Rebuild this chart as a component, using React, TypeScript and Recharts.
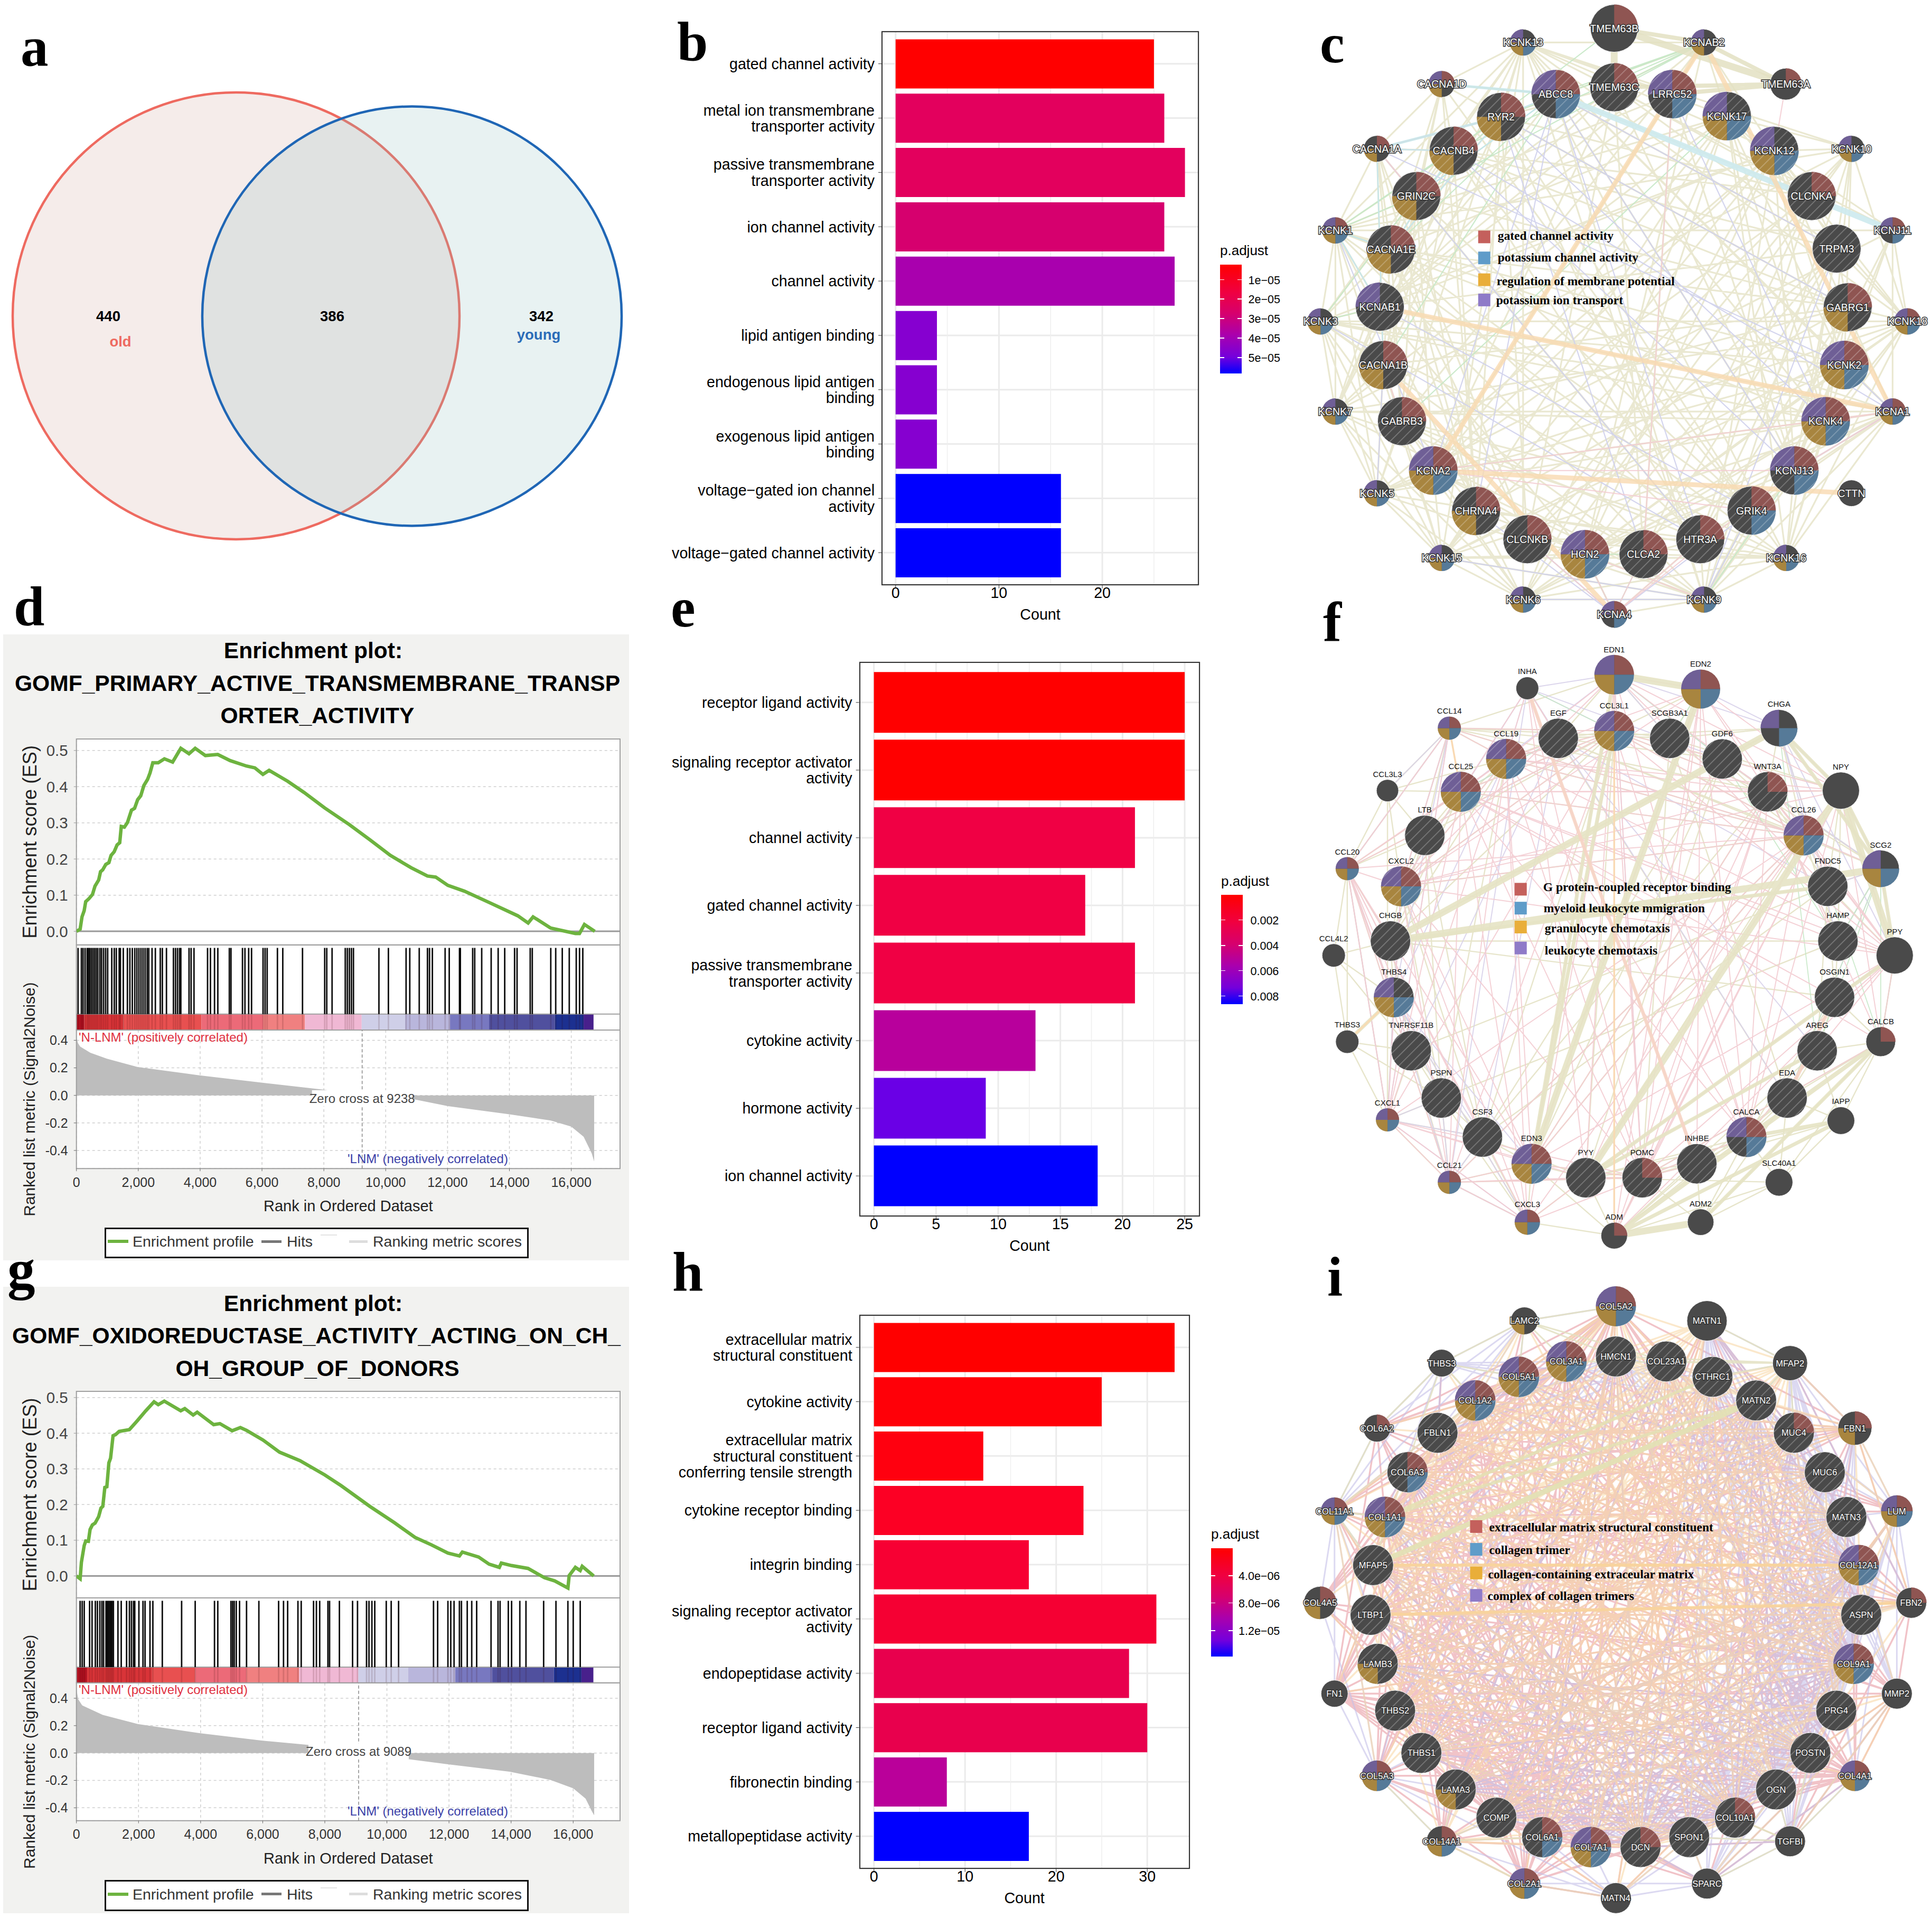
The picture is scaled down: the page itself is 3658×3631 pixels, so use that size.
import React from "react";
import {
  ComposedChart, BarChart, Bar, Cell, Line, Area, Scatter, XAxis, YAxis,
  CartesianGrid, ReferenceArea, ReferenceLine,
} from "recharts";

const SANS = "'Liberation Sans', Arial, sans-serif";
const SERIF = "'Liberation Serif', 'Times New Roman', serif";
const Q: Record<string, string> = { R: "#8F5552", B: "#567A98", G: "#A8853F", P: "#6F5F96" };
const DARK = "#4A4A4A";

/* ---------- panel a ---------- */
const vennSets = [
  { name: "old", x: 447, y: 598, r: 423, fill: "#F5ECEA", stroke: "#EE6A60" },
  { name: "young", x: 780, y: 598.5, r: 397, fill: "rgba(140,190,190,0.2)", stroke: "#1F66B5" },
];
const vennLabels = [
  { text: "440", x: 205, y: 598, color: "#000" },
  { text: "386", x: 629, y: 598, color: "#000" },
  { text: "342", x: 1025, y: 598, color: "#000" },
  { text: "old", x: 228, y: 646, color: "#EE6A60" },
  { text: "young", x: 1020, y: 633, color: "#2B6CB8" },
];

/* ---------- bar panels ---------- */
const bCategories = ["gated channel activity", "metal ion transmembrane\ntransporter activity", "passive transmembrane\ntransporter activity", "ion channel activity", "channel activity", "lipid antigen binding", "endogenous lipid antigen\nbinding", "exogenous lipid antigen\nbinding", "voltage−gated ion channel\nactivity", "voltage−gated channel activity"];
const bCounts = [25, 26, 28, 26, 27, 4, 4, 4, 16, 16];
const bColors = ["#FF0000", "#E3005D", "#E3005D", "#D6006E", "#A900AE", "#8600D0", "#8600D0", "#8600D0", "#0000FF", "#0000FF"];
const bTicks = [0, 10, 20];
const bMinor = [5, 15, 25];
const bLegend = ["1e−05", "2e−05", "3e−05", "4e−05", "5e−05"];

const eCategories = ["receptor ligand activity", "signaling receptor activator\nactivity", "channel activity", "gated channel activity", "passive transmembrane\ntransporter activity", "cytokine activity", "hormone activity", "ion channel activity"];
const eCounts = [25, 25, 21, 17, 21, 13, 9, 18];
const eColors = ["#FF0000", "#FF0000", "#F00044", "#F00044", "#F00044", "#B8009C", "#6A00E6", "#0000FF"];
const eTicks = [0, 5, 10, 15, 20, 25];
const eMinor = [2.5, 7.5, 12.5, 17.5, 22.5];
const eLegend = ["0.002", "0.004", "0.006", "0.008"];

const hCategories = ["extracellular matrix\nstructural constituent", "cytokine activity", "extracellular matrix\nstructural constituent\nconferring tensile strength", "cytokine receptor binding", "integrin binding", "signaling receptor activator\nactivity", "endopeptidase activity", "receptor ligand activity", "fibronectin binding", "metallopeptidase activity"];
const hCounts = [33, 25, 12, 23, 17, 31, 28, 30, 8, 17];
const hColors = ["#FF0000", "#FF0008", "#FF000F", "#FC0024", "#F70033", "#F50033", "#E8004D", "#E8004D", "#BA009A", "#0000FF"];
const hTicks = [0, 10, 20, 30];
const hMinor = [5, 15, 25];
const hLegend = ["4.0e−06", "8.0e−06", "1.2e−05"];

/* ---------- GSEA panels ---------- */
const dRanks = [0, 120, 180, 250, 300, 400, 520, 600, 720, 780, 850, 950, 1050, 1120, 1220, 1315, 1400, 1450, 1550, 1650, 1780, 1880, 1980, 2080, 2180, 2300, 2380, 2470, 2645, 2845, 3110, 3375, 3640, 3840, 4170, 4570, 4970, 5500, 5770, 6030, 6230, 6830, 7360, 8030, 8825, 9490, 10150, 10820, 11350, 11615, 12010, 12545, 13340, 14270, 14605, 14765, 15335, 16135, 16265, 16425, 16760];
const dES = [0, 0.006, 0.04, 0.057, 0.082, 0.09, 0.102, 0.125, 0.142, 0.165, 0.17, 0.185, 0.19, 0.21, 0.22, 0.239, 0.245, 0.29, 0.288, 0.301, 0.335, 0.34, 0.364, 0.375, 0.403, 0.42, 0.438, 0.466, 0.466, 0.477, 0.468, 0.506, 0.491, 0.506, 0.486, 0.489, 0.472, 0.457, 0.452, 0.434, 0.445, 0.415, 0.384, 0.341, 0.295, 0.253, 0.21, 0.176, 0.153, 0.15, 0.127, 0.111, 0.08, 0.043, 0.023, 0.04, 0.009, -0.006, -0.006, 0.019, 0];
const dHits = [53, 160, 213, 279, 346, 385, 425, 478, 532, 585, 638, 691, 758, 811, 877, 944, 1010, 1143, 1223, 1289, 1382, 1422, 1515, 1648, 1728, 1807, 1887, 1954, 2020, 2087, 2153, 2219, 2286, 2339, 2445, 2552, 2711, 2778, 2911, 3136, 3203, 3269, 3336, 3376, 3641, 3708, 3801, 4240, 4333, 4465, 4572, 4944, 4997, 5369, 5449, 5569, 5662, 6034, 6100, 6167, 6499, 6672, 7310, 8027, 8094, 8266, 8692, 8758, 8825, 8891, 8957, 9781, 10087, 10659, 10778, 11084, 11350, 11416, 11509, 11921, 12054, 12386, 12413, 12812, 12878, 13104, 13410, 13636, 13848, 14167, 14247, 14672, 14739, 15337, 15497, 15709, 15935, 16161, 16267, 16373];
const dMetricRanks = [0, 50, 120, 450, 985, 1980, 3975, 5980, 7975, 9238, 10820, 12010, 14000, 15335, 16000, 16400, 16660, 16740];
const dMetric = [0.42, 0.38, 0.355, 0.31, 0.266, 0.206, 0.146, 0.093, 0.042, 0, -0.024, -0.078, -0.137, -0.182, -0.227, -0.3, -0.42, -0.48];
const dStripStops = [0, 250, 1515, 4040, 6034, 7390, 9223, 10620, 12080, 13343, 15470, 16400, 16720];
const gRanks = [0, 120, 160, 250, 300, 385, 440, 515, 600, 715, 790, 850, 915, 980, 1045, 1100, 1180, 1260, 1375, 1705, 1970, 2235, 2500, 2635, 2830, 3360, 3490, 3760, 3890, 4420, 4620, 5015, 5280, 5480, 6010, 6540, 7200, 8000, 8525, 9450, 10245, 10905, 11435, 11965, 12335, 12430, 12955, 13290, 13620, 13685, 14015, 14545, 15075, 15405, 15830, 15870, 16070, 16225, 16290, 16660];
const gES = [0, -0.008, 0.038, 0.085, 0.098, 0.097, 0.13, 0.143, 0.148, 0.166, 0.19, 0.195, 0.248, 0.25, 0.317, 0.33, 0.393, 0.396, 0.405, 0.41, 0.436, 0.463, 0.488, 0.48, 0.49, 0.463, 0.469, 0.451, 0.459, 0.424, 0.427, 0.407, 0.416, 0.408, 0.381, 0.347, 0.323, 0.283, 0.253, 0.195, 0.149, 0.108, 0.087, 0.064, 0.056, 0.067, 0.053, 0.033, 0.024, 0.036, 0.029, 0.021, -0.005, -0.014, -0.034, 0.001, 0.024, 0.015, 0.027, 0];
const gHits = [119, 185, 251, 424, 503, 609, 675, 754, 821, 874, 953, 993, 1032, 1072, 1112, 1151, 1191, 1337, 1443, 1615, 1707, 1773, 1840, 1879, 2012, 2144, 2210, 2369, 2462, 2766, 3388, 3825, 4447, 4553, 4976, 5029, 5082, 5148, 5254, 5479, 5876, 6512, 6670, 6803, 7134, 7240, 7637, 7729, 7835, 8100, 8153, 8470, 8894, 9053, 9344, 9423, 9517, 9609, 9979, 10138, 10376, 11501, 11634, 11965, 12057, 12163, 12335, 12401, 12587, 12732, 12891, 13354, 13579, 13645, 13910, 14016, 14281, 14479, 15048, 15445, 15829, 16001, 16226];
const gMetricRanks = [0, 53, 185, 847, 1972, 3957, 5956, 7465, 9089, 10681, 11964, 13950, 15273, 16001, 16399, 16597, 16676];
const gMetric = [0.47, 0.394, 0.348, 0.279, 0.212, 0.145, 0.091, 0.06, 0, -0.045, -0.082, -0.136, -0.197, -0.258, -0.333, -0.424, -0.455];
const gStripStops = [0, 344, 2435, 3825, 5479, 7173, 9079, 10681, 12203, 13394, 15379, 16266, 16650];
const stripColors = ["#B01020", "#D93438", "#E85050", "#EC6A78", "#F08080", "#F0B8D4", "#CFCFE8", "#B9B6DC", "#7878C0", "#50509E", "#1C3090", "#48208C"];
const rankTicks = [0, 2000, 4000, 6000, 8000, 10000, 12000, 14000, 16000];
const esTicks = [0, 0.1, 0.2, 0.3, 0.4, 0.5];
const metricTicks = [-0.4, -0.2, 0, 0.2, 0.4];

/* ---------- networks: [name, x, y, radius, categories] ---------- */
type N = [string, number, number, number, string];
const cNodes: N[] = [
  ["TMEM63B", 818, 70, 45, "R"], ["KCNAB2", 1030, 105, 25, "GP"], ["TMEM63A", 1223, 208, 30, "R"], ["KCNK10", 1378, 368, 25, "BGP"], ["KCNJ11", 1475, 570, 25, "RBP"], ["KCNK18", 1510, 795, 25, "RBGP"], ["KCNA1", 1475, 1018, 25, "RBGP"], ["CTTN", 1378, 1220, 25, ""], ["KCNK16", 1224, 1380, 25, "BGP"], ["KCNK9", 1030, 1483, 25, "BGP"], ["KCNA4", 818, 1520, 25.5, "RBP"], ["KCNK6", 603, 1483, 25, "BGP"], ["KCNK15", 411, 1380, 25, "BGP"], ["KCNK5", 258, 1220, 25, "BGP"], ["KCNK7", 160, 1018, 25, "BGP"], ["KCNK3", 125, 795, 25, "BGP"], ["KCNK1", 160, 570, 25, "RBGP"], ["CACNA1A", 258, 368, 25, "RG"], ["CACNA1D", 411, 208, 25, "RGP"], ["KCNK13", 603, 105, 25, "BGP"],
  ["ABCC8", 680, 233, 46, "RBP"], ["TMEM63C", 818, 216, 46, "R"], ["LRRC52", 955, 233, 46, "RBP"], ["KCNK17", 1084, 287, 46, "BGP"], ["KCNK12", 1196, 373, 46, "BGP"], ["CLCNKA", 1284, 485, 46, "R"], ["TRPM3", 1343, 615, 46, ""], ["GABRG1", 1369, 760, 46, "RG"], ["KCNK2", 1361, 903, 46, "RBGP"], ["KCNK4", 1317, 1042, 46, "RBGP"], ["KCNJ13", 1243, 1164, 46, "RBP"], ["GRIK4", 1142, 1263, 46, "RB"], ["HTR3A", 1021, 1334, 46, "R"], ["CLCA2", 887, 1371, 46, "R"], ["HCN2", 749, 1371, 46, "RBGP"], ["CLCNKB", 613, 1334, 46, "R"], ["CHRNA4", 492, 1264, 46, "RG"], ["KCNA2", 391, 1164, 46, "RBGP"], ["GABRB3", 317, 1042, 46, "R"], ["CACNA1B", 273, 903, 46, "RG"], ["KCNAB1", 265, 759, 46, "P"], ["CACNA1E", 291, 617, 46, "RG"], ["GRIN2C", 351, 485, 46, "RG"], ["CACNB4", 439, 373, 46, "RG"], ["RYR2", 551, 289, 46, "RG"],
];
const cBeige = [[3,5,8,9,11,14,16,19,23,24,28,29,25,12],[4,5,9,13,16,19,24,28,30,6],[5,8,9,11,12,13,14,15,19,24,27,28,29,26,23],[6,8,9,11,12,14,15,16,19,24,28,29,30,31,34,37,40,32],[8,9,11,12,13,14,15,16,19,23,28,29,30,31,33,35],[9,10,11,12,13,14,15,16,19,24,28,29,31,32,34,36,37],[11,12,13,14,15,16,19,23,24,28,29,34,33,38],[12,13,14,15,16,19,23,24,28,34,36,37,39],[13,14,15,16,19,24,28,29,37,38,39],[14,15,16,19,23,29,39,40,41,43],[15,16,19,24,28,29,40,41,42,39],[16,19,23,28,29,42,43,41,17,40],[19,23,24,28,29,1,18,20,22,42,44],[23,24,25,28,29,30,37,34,41,1,3],[24,28,29,30,37,34,25,26,40],[1,22,23,24,37,40,34,44,21,38],[17,18,41,42,43,44,39,38,36,35,32],[18,43,44,42,41,36,39,31,19],[41,42,43,44,39,36,31,32,27,38,35],[42,43,44,39,36,31,32,38,37,22],[43,44,39,36,31,27,32,38,26],[44,39,36,31,27,32,21,25,35],[27,36,31,38,39,32,41,42,29,30,26],[38,36,32,31,39,33,35],[26,25,21,33,35,32,40,43,30],[25,33,35,32,21,20,37,43],[21,35,33,37,41,40,44,30],[22,19,37,30,33,40],[20,18,30,9,40,26],[34,10,33,35,37,40,30,26,29],[32,10,31,33,35,36,9]];
const cGreen = [[1,21,20,44,43,42],[0,43],[16,41,43,44],[20,41,39,42],[42,44,20,16],[17,44,43],[10,35,33],[15,40,42],[38,23],[30,9],[34,10,33]];
const cLavender = [[15,32],[12,9],[9,31,11],[20,37,26,30,32,36],[44,27,29,33],[43,6,30],[17,32,28],[16,37],[13,39],[10,35,36,31],[22,29],[26,9],[40,31],[6,28,30]];
const cPink = [[10,33,34,35,30,32],[6,29,30,37],[37,30,31],[17,43,42,44],[2,24],[39,38],[9,34],[22,33]];
const cTealThin = [[17,43,39],[41,43,44],[42,20],[44,20],[16,41,40]];
const cOrangeThick = [[37,7],[40,6],[1,6],[1,37],[39,10]];
const cTealThick = [[20,4]];
const cTealMid = [[18,20],[17,44]];
const cBeigeThick = [[0,21,2]];
const cBeigeMid = [[0,1],[22,2],[21,2],[1,2]];
const cLegend = ["gated channel activity", "potassium channel activity", "regulation of membrane potential", "potassium ion transport"];

const fNodes: N[] = [
  ["EDN1", 818, 125, 37.5, "RBGP"], ["EDN2", 1022, 160, 37, "RBGP"], ["CHGA", 1207, 255, 35, "BP"], ["NPY", 1353, 407, 35, ""], ["SCG2", 1447, 597, 35, "BGP"], ["PPY", 1480, 808, 35, ""], ["CALCB", 1447, 1018, 28, "R"], ["IAPP", 1353, 1210, 26, ""], ["SLC40A1", 1207, 1360, 26, ""], ["ADM2", 1022, 1457, 25, ""], ["ADM", 818, 1490, 25, "R"], ["CXCL3", 613, 1457, 24, "RBGP"], ["CCL21", 429, 1360, 22, "RBGP"], ["CXCL1", 283, 1208, 22, "RBGP"], ["THBS3", 188, 1018, 22, ""], ["CCL4L2", 156, 808, 22, ""], ["CCL20", 188, 597, 22, "RBGP"], ["CCL3L3", 283, 407, 21, ""], ["CCL14", 429, 255, 22, "RBGP"], ["INHA", 613, 158, 21.5, ""],
  ["EGF", 686, 280, 38, ""], ["CCL3L1", 818, 262, 38, "RBGP"], ["SCGB3A1", 949, 280, 38, ""], ["GDF6", 1073, 330, 38, ""], ["WNT3A", 1180, 410, 38, "R"], ["CCL26", 1265, 516, 38, "RBGP"], ["FNDC5", 1322, 640, 38, ""], ["HAMP", 1346, 773, 38, ""], ["OSGIN1", 1338, 910, 38, ""], ["AREG", 1297, 1040, 38, ""], ["EDA", 1226, 1155, 38, ""], ["CALCA", 1130, 1250, 38, "RBP"], ["INHBE", 1013, 1315, 38, ""], ["POMC", 884, 1349, 38, "R"], ["PYY", 751, 1349, 38, ""], ["EDN3", 623, 1315, 38, "RBGP"], ["CSF3", 507, 1250, 38, ""], ["PSPN", 410, 1155, 38, ""], ["TNFRSF11B", 339, 1040, 38, ""], ["THBS4", 298, 910, 38, "BGP"], ["CHGB", 290, 773, 38, ""], ["CXCL2", 315, 640, 38, "RBGP"], ["LTB", 371, 516, 38, ""], ["CCL25", 456, 410, 38, "RBGP"], ["CCL19", 563, 330, 38, "RBGP"],
];
const fBeige = [[18,43,44,21,16,17,41,42,20,0,22,24,25],[17,18,43,16,41,42,44,13],[16,15,17,39,14,13,12,43,40,42,21],[15,14,39,40,38,16],[14,38,39,13,37],[13,12,36,37,38,39],[12,11,35,36,37,38,33],[11,35,36,37,10,34,39],[21,0,1,22,23,24,25,43,44,35,36,34,42],[20,0,19,23,21,44,2,25,4,30],[22,0,1,2,25,30,33,3,4],[23,2,24,25,3,4,34,36],[24,2,3,4,25,26,27,35,36],[25,2,3,4,26,27,35,43,44,12,34],[26,3,4,5,28,29,40,38,36],[27,3,4,5,28,40,37],[28,5,6,29,30,31,40],[29,6,7,30,31,10,34],[30,6,7,8,9,31,10,32],[31,8,9,32,33,34],[32,9,10,33,34],[33,9,10,34,35,7,6],[34,10,35,36,7,8,5],[35,10,36,0,1,21,23],[36,37,38,11,41,42],[37,38,39,41,42,44],[40,41,42,43,44,39,38,21,2],[41,42,43,44,21,25],[42,43,44,18],[8,6,7,9,10],[6,7,5,9,8],[2,24,25,26]];
const fPink = [[16,13,12,11,41,43,44,21,18,25,39,40,35,36,37,38],[13,12,11,41,43,44,21,18,25,35,33,34],[12,11,41,43,44,21,25,33,34,35],[11,41,43,44,21,25,33,34,31],[41,43,44,21,18,25,33,24,3,5,35,0,1],[43,44,21,18,25,24,3,5,33,31,6,27,28],[44,21,18,25,24,3,5,0,1,33,35,31],[21,18,25,24,3,5,33,31],[25,18,24,3,5,33,35,31,4,10],[0,1,35,24,3,5,33,31,10,34],[1,35,24,3,5,33,31,10,32],[24,3,5,33,31,35,10,34,6,27],[3,5,33,31,10,34,35,6],[5,33,31,10,34,35,6,27,28],[33,31,10,34,35,6,32,19],[19,44,43,20,32,34]];
const fLavender = [[19,0,20,44,43,21,23,30,12,41],[2,0,1,3,4,5,27,26],[4,3,5,26,27,30,23],[18,16,17,41,13,39],[39,41,12,36,37,11,13,16,44,35],[13,16,41,37,36,11],[12,36,37,39,11],[0,22,23,43,33],[20,43,36,38,26,29]];
const fGreen = [[0,23],[1,22,35],[4,30,29,27,6],[23,27],[2,29],[26,6],[5,6,28],[21,19],[43,20]];
const fBeigeThick = [[0,1],[4,40],[2,40],[3,34],[1,35],[9,10],[3,5]];
const fBeigeMid = [[2,3,4],[3,4],[4,5],[5,34],[10,6,31,7],[31,6,7],[6,9],[14,39],[26,40],[21,35],[34,29],[0,35]];
const fOrange = [[19,32],[28,30]];
const fOrangeThin = [[10,21],[18,43],[14,39]];
const fLegend = ["G protein-coupled receptor binding", "myeloid leukocyte mmigration", "granulocyte chemotaxis", "leukocyte chemotaxis"];

const iNodes: N[] = [
  ["COL5A2", 822, 93, 38, "RBGP"], ["MATN1", 1037, 128, 38, ""], ["MFAP2", 1233, 230, 33, ""], ["FBN1", 1386, 387, 32, "RG"], ["LUM", 1485, 587, 30, "RBGP"], ["FBN2", 1519, 808, 29, "R"], ["MMP2", 1485, 1027, 29, ""], ["COL4A1", 1386, 1225, 29, "RBGP"], ["TGFBI", 1233, 1383, 29, ""], ["SPARC", 1037, 1485, 29, ""], ["MATN4", 822, 1520, 29, ""], ["COL2A1", 606, 1485, 29, "RBGP"], ["COL14A1", 411, 1383, 29, "RBG"], ["COL5A3", 258, 1225, 29, "RBGP"], ["FN1", 158, 1027, 25.5, ""], ["COL4A5", 124, 808, 31, "RG"], ["COL11A1", 158, 587, 26, "RBGP"], ["COL6A2", 258, 387, 26, "R"], ["THBS3", 411, 230, 26, ""], ["LAMC2", 606, 128, 26, "G"],
  ["HMCN1", 822, 214, 38.5, ""], ["COL23A1", 941, 226, 38.5, ""], ["CTHRC1", 1050, 263, 38.5, ""], ["MATN2", 1153, 320, 38.5, ""], ["MUC4", 1242, 398, 38.5, "R"], ["MUC6", 1315, 493, 38.5, ""], ["MATN3", 1366, 601, 38.5, ""], ["COL12A1", 1395, 717, 38.5, "RBGP"], ["ASPN", 1401, 837, 38.5, ""], ["COL9A1", 1383, 955, 38.5, "RBGP"], ["PRG4", 1342, 1068, 38.5, ""], ["POSTN", 1281, 1170, 38.5, ""], ["OGN", 1200, 1258, 38.5, ""], ["COL10A1", 1103, 1326, 38.5, "R"], ["SPON1", 995, 1373, 38.5, ""], ["DCN", 880, 1397, 38.5, "R"], ["COL7A1", 763, 1397, 38.5, "RBGP"], ["COL6A1", 648, 1373, 38.5, "RB"], ["COMP", 540, 1326, 38.5, ""], ["LAMA3", 444, 1258, 38.5, "G"], ["THBS1", 363, 1170, 38.5, ""], ["THBS2", 301, 1068, 38.5, ""], ["LAMB3", 260, 955, 38.5, "G"], ["LTBP1", 243, 837, 38.5, ""], ["MFAP5", 249, 717, 38.5, ""], ["COL1A1", 277, 601, 38.5, "RBGP"], ["COL6A3", 330, 493, 38.5, "RB"], ["FBLN1", 401, 398, 38.5, ""], ["COL1A2", 490, 320, 38.5, "RBGP"], ["COL5A1", 593, 263, 38.5, "RBGP"], ["COL3A1", 705, 226, 38.5, "RBGP"],
];
const iLavender = [[2,3,4,24,25,26,23,1,22,5,8,6,7,29,30,31,32,28],[8,7,6,9,31,32,33,34,35,4,27,28,25],[9,7,8,6,31,32,33,34,35,10,11,30,28],[4,3,2,5,6,7,24,25,26,27,28,29,30,31],[25,2,23,30,31,32,33,34,27,29,18],[26,2,23,22,30,32,34,6,33],[24,23,22,28,30,32,6,7],[18,19,17,47,48,49,50,16,45,22,23],[19,17,16,0,48,49,47],[22,23,30,29,31,35,20,21,34],[16,15,14,17,13,45,43,44],[13,12,14,15,39,40,41,10],[10,11,9,12,34,33,37,36],[28,30,32,33,5,6,34],
  [1,30,31,32,33,34,35,25,26,27,8,9,28,6],[23,31,32,33,34,35,36,37,38,25,26,27,9,8,4],[27,30,31,33,34,35,36,37,38,39,40,8,9,2,1,22],[28,31,35,36,37,38,39,40,41,9,8,2],[29,32,34,35,36,37,38,39,40,2,3,8,25],[30,33,35,36,37,38,39,40,41,42,2,3,1,20,21],[31,34,36,37,38,39,41,42,43,2,3,1,21,22],[32,35,37,38,39,40,42,43,44,3,23,24,20],[33,36,38,39,41,43,44,45,3,24,25,21],[34,37,39,40,42,44,45,46,23,24,25,26],[35,38,40,41,43,45,46,47,25,26,27],[21,36,38,40,42,44,46,47,48,26,27],[20,35,37,39,41,43,45,47,48,27,28,29]];
const iBeige = [[18,19,17,48,49,44],[19,0,49,50,20,21],[2,23,24,1,22,21,20,50],[8,32,31,33,34,7,9],[12,13,11,37,39,38],[16,45,48,17,44]];
const iOrange = [[0,49,48,45,50,36,27,43,44,2,31,37,11,13],[5,43,44,28,30,27,41,40,3,14,47],[3,44,43,2,47,48,23,24,28],[45,44,43,46,19,42,39,22,29,33,31],[48,19,18,17,47,46,50,26,41,40],[21,20,22,23,36,30,32,12,13],[34,35,32,31,33,9,36,37,38,39,40],[30,31,28,25,24,26,9,38,41],[42,39,19,7,15,40,8],[47,43,44,41,40,14,17,22,27],[20,26,25,32,34,44,3,24,23],[16,13,29,33,45,0,12,37],[10,1,23,29,38,34,11],[6,31,38,40,9,8,7,27],[12,37,36,35,11,33,28],[4,35,32,28,27,3,24],
  [1,36,37,39,41,43,44,46,47,48,12,14,15,16],[2,33,35,37,38,39,40,42,44,45,46,47,13],[22,33,34,36,37,38,40,41,43,46,47],[24,35,36,38,39,40,41,43,44,45,47],[25,36,37,39,40,41,42,44,45,46,48],[26,37,38,39,41,42,43,45,46,47,49],[27,38,39,40,42,43,44,46,47,48],[28,39,40,41,43,44,45,47,48,49],[29,40,41,42,44,45,46,48,49,50],[31,42,43,44,46,47,48,50,0],[32,43,44,45,47,48,49,0,19],[33,44,45,46,48,49,50,18],[35,47,48,49,50,0,20,21]];
const iPink = [[0,48,49,50,45,46,37,36,29,27,7,11,13,16,33,17,15,12,3,5,14,40,41],[48,49,50,45,46,37,36,29,27,7,11,13,16,33,17,15,12,3,5,14,40,41,6,35,4],[45,49,50,46,37,36,29,27,7,11,13,16,33,17,15,12,3,5,14,40,6,35,4,38],[49,50,46,37,36,29,27,7,11,13,16,33,17,15,12,14,41,35,4,31],[50,46,37,36,29,27,7,11,13,16,33,17,15,12,14,4,5,6,35],[46,37,36,29,27,7,11,17,15,12,13,16,33,3,28],[37,36,29,27,7,11,17,15,12,13,16,33,35,38],[36,29,27,7,11,17,15,12,13,33,35,14],[29,27,7,11,16,13,33,12,15,17,26,1,10],[27,7,11,12,16,33,17,13,35,4],[7,11,12,13,15,16,19,39,42,14,6,9,40,41],[11,12,13,16,33,1,10,26,29,38],[14,40,41,38,31,43,3,5,6,9,47,17,34],[3,5,43,44,2,14,47,23,9,8,35],[5,44,43,2,14,47,8,6],[38,40,41,10,23,1,26,30,9,31,47],[40,41,42,39,19,18,38,9,6,34],[35,4,32,28,30,31,25,33,46,9,8],[6,31,9,8,14,16,45,48,49,50,0,7],[1,23,26,10,29,11,30,38,25,24],
  [44,29,30,31,32,33,34,35,36,38,40,26,25,27],[43,28,29,31,32,33,35,37,38,26,27,24,23],[42,27,29,30,31,33,35,36,37,26,25,24,23,22],[41,26,28,29,32,33,34,36,24,25,23,22,21],[40,25,27,28,30,31,32,33,35,24,23,22,21,20],[39,24,26,27,29,30,33,34,23,22,21,20,1],[38,24,25,27,28,29,32,33,22,21,20,2],[47,28,29,30,32,33,34,35,36,37,24,25,26],[46,27,29,30,31,32,34,35,36,38,23,25,24],[20,30,31,33,34,35,36,37,38,39],[21,29,31,32,34,35,37,38,39,40],[22,28,30,32,33,35,36,38,39,41],[23,27,29,31,32,33,36,37,40,42],[24,28,30,33,34,37,38,41,42]];
const iBeigeThick = [[23,44]];
const iBeigeMid = [[23,45],[22,45]];
const iOrangeMid = [[43,5],[44,27]];
const iLegend = ["extracellular matrix structural constituent", "collagen trimer", "collagen-containing extraceular matrix", "complex of collagen trimers"];
const legendColors = ["#C4605C", "#5F9CC9", "#E9AE39", "#8F7BC8"];

const panelLetters = [
  { t: "a", x: 39, y: 120 }, { t: "b", x: 1282, y: 111 }, { t: "c", x: 2499, y: 114 },
  { t: "d", x: 26, y: 1180 }, { t: "e", x: 1270, y: 1182 }, { t: "f", x: 2505, y: 1209 },
  { t: "g", x: 14, y: 2435 }, { t: "h", x: 1273, y: 2440 }, { t: "i", x: 2513, y: 2449 },
];

/* ---------- helpers ---------- */
const pts = (xs: number[], ys: number[]) => xs.map((x, i) => ({ x, y: ys[i] }));
const Abs = ({ l, t, w, h, style, children }: any) => (
  <div style={{ position: "absolute", left: l, top: t, width: w, height: h, ...style }}>{children}</div>
);
const Txt = ({ x, y, size, anchor = "left", color = "#000", bold, family = SANS, children }: any) => (
  <div style={{ position: "absolute", left: x, top: y, whiteSpace: "nowrap", fontFamily: family, fontSize: size, fontWeight: bold ? 700 : 400, color, lineHeight: 1,
    transform: `translate(${anchor === "center" ? "-50%" : "0"},-50%)` }}>{children}</div>
);

const Venn = () => (
  <Abs l={0} t={0}>
    <ComposedChart width={1220} height={1100} margin={{ top: 0, right: 0, bottom: 0, left: 0 }}>
      <XAxis type="number" dataKey="x" domain={[0, 1220]} hide />
      <YAxis type="number" dataKey="y" domain={[0, 1100]} reversed hide />
      <Scatter data={vennSets} dataKey="y" isAnimationActive={false}
        shape={(p: any) => <circle cx={p.cx} cy={p.cy} r={p.payload.r} fill={p.payload.fill} stroke={p.payload.stroke} strokeWidth={4.5} />} />
      <Scatter data={vennLabels} dataKey="y" isAnimationActive={false}
        shape={(p: any) => <text x={p.cx} y={p.cy} dy="0.36em" textAnchor="middle" fontFamily={SANS} fontWeight={700} fontSize={27.5} fill={p.payload.color}>{p.payload.text}</text>} />
    </ComposedChart>
  </Abs>
);

const CatTick = ({ x, y, payload }: any) => {
  const lines = String(payload.value).split("\n");
  const y0 = y - ((lines.length - 1) * 30.6) / 2;
  return (
    <text textAnchor="end" fontFamily={SANS} fontSize={28.6} fill="#000">
      {lines.map((s, i) => <tspan key={i} x={x} y={y0 + i * 30.6} dy="0.36em">{s}</tspan>)}
    </text>
  );
};

const GRAD = "linear-gradient(#FF0000 0%, #F00040 25%, #D6006E 45%, #A900AE 65%, #7400DC 85%, #0000FF 100%)";

const BarPanel = ({ cats, counts, colors, ticks, minor, plot, domain, originX, legend }: any) => {
  const data = cats.map((name: string, i: number) => ({ name, count: counts[i] }));
  const H = plot.b - plot.t, W = plot.r - plot.l;
  const band = H / (cats.length + 0.2);
  const yw = plot.l - originX;
  const top = plot.t - 8;
  return (
    <>
      <Abs l={originX} t={top}>
        <BarChart width={yw + W + 4} height={8 + H + 90} data={data} layout="vertical" barCategoryGap="5%"
          margin={{ top: 8, right: 4, bottom: 0, left: 0 }}>
          <CartesianGrid stroke="#EBEBEB" strokeWidth={3} vertical />
          <CartesianGrid stroke="#EFEFEF" strokeWidth={1.5} horizontal={false} verticalValues={minor} />
          <XAxis type="number" dataKey="count" domain={domain} ticks={ticks} interval={0} height={90} allowDataOverflow
            tick={{ fontFamily: SANS, fontSize: 28.6, fill: "#000", dy: -5 }} tickSize={6} tickMargin={3} stroke="#333"
            axisLine={false} label={{ value: "Count", position: "insideBottom", offset: 25, fontFamily: SANS, fontSize: 28.6, fill: "#000" }} />
          <YAxis type="category" dataKey="name" width={yw} interval={0} axisLine={false} stroke="#333" tickSize={6} tickMargin={7}
            padding={{ top: band * 0.1, bottom: band * 0.1 }} tick={<CatTick />} />
          <Bar dataKey="count" isAnimationActive={false}>
            {colors.map((c: string, i: number) => <Cell key={i} fill={c} />)}
          </Bar>
        </BarChart>
      </Abs>
      <Abs l={plot.l} t={plot.t} w={W} h={H} style={{ boxSizing: "border-box", border: "2px solid #333", pointerEvents: "none" }} />
      <Txt x={legend.x} y={legend.titleY} size={26}>p.adjust</Txt>
      <Abs l={legend.x} t={legend.top} w={41} h={legend.h} style={{ background: GRAD }} />
      {legend.labels.map((s: string, i: number) => (
        <React.Fragment key={s}>
          <Abs l={legend.x} t={legend.ys[i] - 1} w={8} h={1.5} style={{ background: "#fff" }} />
          <Abs l={legend.x + 33} t={legend.ys[i] - 1} w={8} h={1.5} style={{ background: "#fff" }} />
          <Txt x={legend.labelX} y={legend.ys[i] + 2} size={21.5}>{s}</Txt>
        </React.Fragment>
      ))}
    </>
  );
};

const GseaPanel = ({ g }: any) => {
  const chartL = g.bg.l;
  const yw = g.plot.l - chartL;
  const W = g.plot.r - g.plot.l;
  const rankDomain = [0, g.rankMax];
  const esH = g.plot.esB - g.plot.t;
  const hitH = g.plot.stripB - g.plot.esB;
  const stripFrac = (g.plot.stripB - g.plot.stripT) / hitH;
  const metH = g.plot.b - g.plot.stripB;
  const axisX = { type: "number" as const, dataKey: "x", domain: rankDomain, ticks: rankTicks, allowDataOverflow: true, interval: 0 as const };
  const hitsData = g.hits.map((x: number) => ({ x, y: 0.966 }));
  const hitLen = (0.966 - stripFrac) * hitH;
  const streakLen = stripFrac * hitH;
  const Frame = ({ y0, y1 }: any) => <ReferenceArea x1={0} x2={g.rankMax} y1={y0} y2={y1} fill="none" stroke="#A0A0A0" strokeWidth={2} ifOverflow="visible" />;
  return (
    <>
      <Abs l={g.bg.l} t={g.bg.t} w={g.bg.r - g.bg.l} h={g.bg.b - g.bg.t} style={{ background: "#F2F2F0" }} />
      <Abs l={g.plot.l} t={g.plot.t} w={W} h={g.plot.b - g.plot.t} style={{ background: "#fff" }} />
      {g.title.map((s: string, i: number) => <Txt key={i} x={g.titleX[i]} y={g.titleY[i]} size={42.6} bold anchor="center">{s}</Txt>)}

      <Abs l={chartL} t={g.plot.t - 10}>
        <ComposedChart width={yw + W + 10} height={esH + 20} margin={{ top: 10, right: 10, bottom: 10, left: 0 }}>
          <CartesianGrid stroke="#CFCFCF" strokeDasharray="5 5" strokeWidth={1.5} />
          <XAxis {...axisX} height={0} tick={false} axisLine={false} tickLine={false} />
          <YAxis type="number" dataKey="y" domain={g.esDomain} ticks={esTicks} interval={0} width={yw} allowDataOverflow axisLine={false}
            tickFormatter={(v: number) => v.toFixed(1)} tick={{ fontFamily: SANS, fontSize: 29.5, fill: "#444" }} tickSize={5} tickMargin={11} stroke="#999"
            label={{ value: "Enrichment score (ES)", angle: -90, position: "insideLeft", offset: 50, style: { textAnchor: "middle", fontFamily: SANS, fontSize: 36.4, fill: "#222" } }} />
          <Frame y0={g.esDomain[0]} y1={g.esDomain[1]} />
          <ReferenceLine y={0} stroke="#999" strokeWidth={3} />
          <Line data={g.es} dataKey="y" stroke="#6DB33F" strokeWidth={6.5} dot={false} activeDot={false} isAnimationActive={false} />
        </ComposedChart>
      </Abs>

      <Abs l={chartL} t={g.plot.esB}>
        <ComposedChart width={yw + W + 10} height={hitH} margin={{ top: 0, right: 10, bottom: 0, left: 0 }}>
          <XAxis {...axisX} height={0} tick={false} axisLine={false} tickLine={false} />
          <YAxis type="number" dataKey="y" domain={[0, 1]} width={yw} hide={false} tick={false} axisLine={false} tickLine={false} />
          {g.strip.slice(0, -1).map((s: number, i: number) => (
            <ReferenceArea key={i} x1={s} x2={g.strip[i + 1]} y1={0} y2={stripFrac} fill={stripColors[i]} fillOpacity={1} stroke="none" />
          ))}
          <Frame y0={0} y1={1} />
          <ReferenceLine y={stripFrac} stroke="#A0A0A0" strokeWidth={2} />
          <Scatter data={hitsData} dataKey="y" isAnimationActive={false}
            shape={(p: any) => (
              <g>
                <line x1={p.cx} x2={p.cx} y1={p.cy} y2={p.cy + hitLen} stroke="#000" strokeWidth={2.8} strokeOpacity={0.95} />
                <line x1={p.cx} x2={p.cx} y1={p.cy + hitLen} y2={p.cy + hitLen + streakLen} stroke="#300" strokeWidth={2.8} strokeOpacity={0.14} />
              </g>
            )} />
        </ComposedChart>
      </Abs>

      <Abs l={chartL} t={g.plot.stripB}>
        <ComposedChart width={yw + W + 10} height={metH + 90} data={g.metric} margin={{ top: 0, right: 10, bottom: 0, left: 0 }}>
          <CartesianGrid stroke="#CFCFCF" strokeDasharray="5 5" strokeWidth={1.5} />
          <XAxis {...axisX} height={90} tickFormatter={(v: number) => v.toLocaleString("en-US")} stroke="#666"
            tick={{ fontFamily: SANS, fontSize: 25, fill: "#333" }} tickSize={5} tickMargin={12} axisLine={false}
            label={{ value: "Rank in Ordered Dataset", position: "insideBottom", offset: 9, fontFamily: SANS, fontSize: 29, fill: "#222" }} />
          <YAxis type="number" dataKey="y" domain={g.metDomain} ticks={metricTicks} interval={0} width={yw} allowDataOverflow axisLine={false}
            tickFormatter={(v: number) => v.toFixed(1)} tick={{ fontFamily: SANS, fontSize: 25, fill: "#333" }} tickSize={5} tickMargin={11} stroke="#666"
            label={{ value: "Ranked list metric (Signal2Noise)", angle: -90, position: "insideLeft", offset: 49, style: { textAnchor: "middle", fontFamily: SANS, fontSize: 30, fill: "#222" } }} />
          <Area dataKey="y" stroke="none" fill="#BDBDBD" fillOpacity={1} isAnimationActive={false} />
          <Frame y0={g.metDomain[0]} y1={g.metDomain[1]} />
          <ReferenceLine x={g.zero} stroke="#888" strokeDasharray="6 4" strokeWidth={1.5} />
          <Scatter data={[{ x: g.zero, y: g.zeroLabelY }]} dataKey="y" isAnimationActive={false}
            shape={(p: any) => (
              <g>
                <rect x={p.cx - 95} y={p.cy - 15} width={190} height={30} fill="#fff" />
                <text x={p.cx} y={p.cy} dy="0.36em" textAnchor="middle" fontFamily={SANS} fontSize={24} fill="#444">Zero cross at {g.zero}</text>
              </g>
            )} />
        </ComposedChart>
      </Abs>
      <Txt x={149} y={g.posY} size={24} color="#E03040">'N-LNM' (positively correlated)</Txt>
      <Txt x={658} y={g.negY} size={24} color="#3A3FA8">'LNM' (negatively correlated)</Txt>

      <Abs l={198} t={g.legend.t} w={803} h={g.legend.h} style={{ boxSizing: "border-box", border: "3px solid #111", background: "#fff" }} />
      <Abs l={204} t={g.legend.c - 3} w={39} h={6} style={{ background: "#6DB33F" }} />
      <Txt x={251} y={g.legend.c} size={28.5} color="#333">Enrichment profile</Txt>
      <Abs l={495} t={g.legend.c - 2.5} w={38} h={5} style={{ background: "#777" }} />
      <Txt x={543} y={g.legend.c} size={28.5} color="#333">Hits</Txt>
      <Abs l={607} t={g.legend.c - 13} w={31} h={2} style={{ background: "#E3E3E3" }} />
      <Abs l={661} t={g.legend.c - 2.5} w={35} h={5} style={{ background: "#DDD" }} />
      <Txt x={706} y={g.legend.c} size={28.5} color="#333">Ranking metric scores</Txt>
    </>
  );
};

const dCfg = {
  bg: { l: 6, r: 1191, t: 1201, b: 2386 },
  title: ["Enrichment plot:", "GOMF_PRIMARY_ACTIVE_TRANSMEMBRANE_TRANSP", "ORTER_ACTIVITY"],
  titleX: [593, 601, 601], titleY: [1231, 1293, 1354],
  plot: { l: 144.7, r: 1174, t: 1399.4, esB: 1789.2, stripT: 1920, stripB: 1950.3, b: 2212.5 },
  rankMax: 17577, esDomain: [-0.0375, 0.5318], metDomain: [-0.5313, 0.4746],
  es: pts(dRanks, dES), hits: dHits, metric: pts(dMetricRanks, dMetric), strip: dStripStops,
  zero: 9238, zeroLabelY: -0.02, posY: 1964, negY: 2194, legend: { t: 2324, h: 58, c: 2350 },
};
const gCfg = {
  bg: { l: 6, r: 1191, t: 2436, b: 3622 },
  title: ["Enrichment plot:", "GOMF_OXIDOREDUCTASE_ACTIVITY_ACTING_ON_CH_", "OH_GROUP_OF_DONORS"],
  titleX: [593, 599, 601], titleY: [2466.7, 2528, 2590],
  plot: { l: 144.7, r: 1174, t: 2634, esB: 3025, stripT: 3156, stripB: 3185.8, b: 3446.5 },
  rankMax: 17509, esDomain: [-0.0616, 0.5174], metDomain: [-0.494, 0.512],
  es: pts(gRanks, gES), hits: gHits, metric: pts(gMetricRanks, gMetric), strip: gStripStops,
  zero: 9089, zeroLabelY: 0.012, posY: 3199, negY: 3429, legend: { t: 3559, h: 59, c: 3585.5 },
};

/* Builds one polyline with gaps from [source, target, target...] rows of node indices. */
const edgeData = (nodes: N[], rows: number[][]) => {
  const out: { x: number; y: number | null }[] = [];
  rows.forEach(([s, ...ts]) => ts.forEach((t) => {
    out.push({ x: nodes[s][1], y: nodes[s][2] }, { x: nodes[t][1], y: nodes[t][2] }, { x: nodes[t][1], y: null });
  }));
  return out;
};

const quadPath = (cx: number, cy: number, r: number, q: string) => {
  if (q === "R") return `M${cx} ${cy}L${cx} ${cy - r}A${r} ${r} 0 0 1 ${cx + r} ${cy}Z`;
  if (q === "B") return `M${cx} ${cy}L${cx + r} ${cy}A${r} ${r} 0 0 1 ${cx} ${cy + r}Z`;
  if (q === "G") return `M${cx} ${cy}L${cx} ${cy + r}A${r} ${r} 0 0 1 ${cx - r} ${cy}Z`;
  return `M${cx} ${cy}L${cx - r} ${cy}A${r} ${r} 0 0 1 ${cx} ${cy - r}Z`;
};

const NodeMark = ({ cx, cy, payload, mode, hatchMin, font }: any) => {
  const { name, r, flags } = payload;
  return (
    <g>
      <circle cx={cx} cy={cy} r={r} fill={DARK} stroke="#f4f4f4" strokeWidth={1} />
      {flags.split("").map((q: string) => <path key={q} d={quadPath(cx, cy, r, q)} fill={Q[q]} />)}
      {r >= hatchMin ? <circle cx={cx} cy={cy} r={r} fill="url(#nodeHatch)" /> : null}
      {mode === "halo" ? (
        <text x={cx} y={cy} dy="0.36em" textAnchor="middle" fontFamily={SANS} fontSize={font} fill="#fff" stroke="#333" strokeWidth={3} style={{ paintOrder: "stroke" }}>{name}</text>
      ) : (
        <text x={cx} y={cy - r - 5} textAnchor="middle" fontFamily={SANS} fontSize={font} fill="#111">{name}</text>
      )}
    </g>
  );
};

const Network = ({ box, nodes, groups, legend, mode, hatchMin, font }: any) => {
  const data = nodes.map((n: N) => ({ name: n[0], x: n[1], y: n[2], r: n[3], flags: n[4] }));
  return (
    <Abs l={box.l} t={box.t}>
      <ComposedChart width={box.w} height={box.h} margin={{ top: 0, right: 0, bottom: 0, left: 0 }}>
        <XAxis type="number" dataKey="x" domain={[0, 1568]} hide allowDataOverflow />
        <YAxis type="number" dataKey="y" domain={[0, 1568]} reversed hide allowDataOverflow />
        {groups.map((g: any, i: number) => (
          <Line key={i} data={edgeData(nodes, g.rows)} dataKey="y" stroke={g.color} strokeWidth={g.width} strokeOpacity={g.opacity}
            dot={false} activeDot={false} connectNulls={false} isAnimationActive={false} />
        ))}
        <Scatter data={data} dataKey="y" isAnimationActive={false}
          shape={(p: any) => <NodeMark {...p} mode={mode} hatchMin={hatchMin} font={font} />} />
        <Scatter data={legend} dataKey="y" isAnimationActive={false}
          shape={(p: any) => (
            <g>
              <rect x={p.cx} y={p.cy - 12} width={23} height={24} fill={p.payload.color} />
              <text x={p.cx + p.payload.dx} y={p.cy + p.payload.dy} dy="0.34em" fontFamily={SERIF} fontWeight={700} fontSize={23.5} fill="#000">{p.payload.text}</text>
            </g>
          )} />
      </ComposedChart>
    </Abs>
  );
};

const legendRows = (labels: string[], x: number, ys: number[], dxs: number[], dys: number[]) =>
  labels.map((text, i) => ({ text, x, y: ys[i], color: legendColors[i], dx: dxs[i], dy: dys[i] }));

const BEIGE = "#E3E0C2", PINK = "#F3CCD2", LAV = "#CFD0EC", GRN = "#C6E8C6", TEAL = "#C4E6EC", ORG = "#F9D9B0";

const cGroups = [
  { rows: cBeige, color: BEIGE, width: 3.2, opacity: 0.75 }, { rows: cGreen, color: GRN, width: 2.2, opacity: 0.9 },
  { rows: cLavender, color: LAV, width: 2.2, opacity: 0.9 }, { rows: cPink, color: PINK, width: 2.2, opacity: 0.85 },
  { rows: cTealThin, color: TEAL, width: 2.5, opacity: 0.9 }, { rows: cBeigeMid, color: BEIGE, width: 8, opacity: 0.85 },
  { rows: cBeigeThick, color: BEIGE, width: 13, opacity: 0.85 }, { rows: cTealMid, color: TEAL, width: 5, opacity: 0.8 },
  { rows: cTealThick, color: "#CDEAEE", width: 11, opacity: 0.9 }, { rows: cOrangeThick, color: ORG, width: 9, opacity: 0.8 },
];
const fGroups = [
  { rows: fBeige, color: BEIGE, width: 2.4, opacity: 0.85 }, { rows: fLavender, color: "#D8D2EA", width: 2, opacity: 0.9 },
  { rows: fGreen, color: GRN, width: 1.8, opacity: 0.9 }, { rows: fPink, color: PINK, width: 2, opacity: 0.9 },
  { rows: fBeigeMid, color: "#E6E3C4", width: 7, opacity: 0.9 }, { rows: fBeigeThick, color: "#E6E3C4", width: 13, opacity: 0.9 },
  { rows: fOrangeThin, color: ORG, width: 3.5, opacity: 0.9 }, { rows: fOrange, color: "#F6D4C4", width: 6.5, opacity: 0.9 },
];
const iGroups = [
  { rows: iPink, color: "#F0BCC2", width: 3.4, opacity: 0.9 }, { rows: iLavender, color: "#C4C0E8", width: 3, opacity: 0.6 },
  { rows: iOrange, color: "#F9D8A8", width: 3.4, opacity: 0.6 }, { rows: iBeige, color: BEIGE, width: 3, opacity: 0.85 },
  { rows: iOrangeMid, color: "#F8D39A", width: 6, opacity: 0.85 }, { rows: iBeigeMid, color: "#E3E0B4", width: 6, opacity: 0.85 },
  { rows: iBeigeThick, color: "#E3E0B4", width: 10, opacity: 0.95 },
];

export default function App() {
  return (
    <div style={{ position: "absolute", left: 0, top: 0, width: 3658, height: 3631, background: "#fff", overflow: "hidden" }}>
      <style>{`svg.recharts-surface{overflow:visible}`}</style>
      <svg width={0} height={0} style={{ position: "absolute" }}>
        <defs>
          <pattern id="nodeHatch" patternUnits="userSpaceOnUse" width={13} height={13} patternTransform="rotate(45)">
            <line x1={0} y1={0} x2={0} y2={13} stroke="rgba(255,255,255,0.3)" strokeWidth={3} />
          </pattern>
        </defs>
      </svg>

      <Venn />

      <BarPanel cats={bCategories} counts={bCounts} colors={bColors} ticks={bTicks} minor={bMinor} originX={1220}
        plot={{ l: 1669, r: 2270, t: 59, b: 1108 }} domain={[-1.365, 29.35]}
        legend={{ x: 2310, titleY: 474, top: 500.5, h: 206.5, labelX: 2363.5, labels: bLegend, ys: [529.6, 566.3, 603, 640, 677] }} />
      <BarPanel cats={eCategories} counts={eCounts} colors={eColors} ticks={eTicks} minor={eMinor} originX={1220}
        plot={{ l: 1626.6, r: 2272, t: 1252.8, b: 2302.8 }} domain={[-1.19, 26.23]}
        legend={{ x: 2312, titleY: 1668, top: 1694.4, h: 206.6, labelX: 2367.5, labels: eLegend, ys: [1741.8, 1790, 1837.5, 1885.7] }} />
      <BarPanel cats={hCategories} counts={hCounts} colors={hColors} ticks={hTicks} minor={hMinor} originX={1220}
        plot={{ l: 1626.6, r: 2252.6, t: 2488.7, b: 3537.6 }} domain={[-1.63, 34.66]}
        legend={{ x: 2293, titleY: 2904, top: 2930.5, h: 205.5, labelX: 2345, labels: hLegend, ys: [2983, 3034.8, 3087.3] }} />

      <GseaPanel g={dCfg} />
      <GseaPanel g={gCfg} />

      <Network box={{ l: 2400, t: 0, w: 1258, h: 1200 }} nodes={cNodes} groups={cGroups} mode="halo" hatchMin={46} font={19.5}
        legend={legendRows(cLegend, 497, [586, 638, 692, 742], [37, 37, 35, 34], [-2, -1, 2, 0])} />
      <Network box={{ l: 2400, t: 1180, w: 1258, h: 1220 }} nodes={fNodes} groups={fGroups} mode="above" hatchMin={38} font={15}
        legend={legendRows(fLegend, 583, [647, 693, 739, 790], [54, 55, 57, 57], [-4, 0, 2, 4])} />
      <Network box={{ l: 2400, t: 2400, w: 1258, h: 1231 }} nodes={iNodes} groups={iGroups} mode="halo" hatchMin={38.5} font={16.5}
        legend={legendRows(iLegend, 478, [624, 679, 736, 790], [36, 36, 34, 33], [1, 1, 2, 1])} />

      {panelLetters.map((p) => (
        <div key={p.t} style={{ position: "absolute", left: p.x, top: p.y - 84, fontFamily: SERIF, fontWeight: 700, fontSize: 105, lineHeight: "105px", color: "#000" }}>{p.t}</div>
      ))}
    </div>
  );
}
